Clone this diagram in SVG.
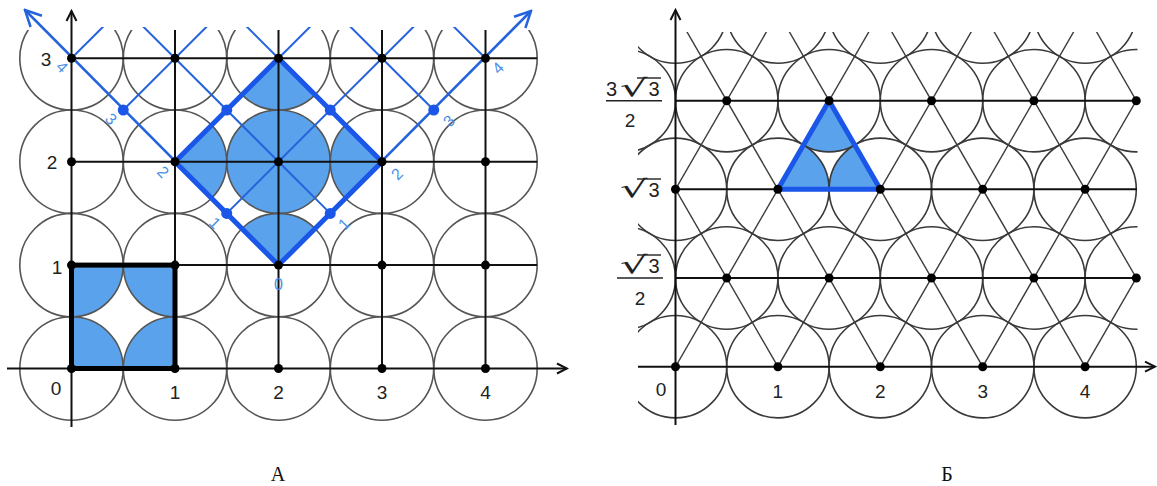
<svg xmlns="http://www.w3.org/2000/svg" width="1157" height="486" viewBox="0 0 1157 486">
<style>
.circ{fill:none;stroke:#555;stroke-width:1.6}
.circR{fill:none;stroke:#3a3a3a;stroke-width:1.6}
.grid{stroke:#111;stroke-width:2;fill:none}
.diag{stroke:#3c3c3c;stroke-width:1.4;fill:none}
.bl{stroke:#2563dc;stroke-width:2;fill:none}
.blt{stroke:#1a56e8;stroke-width:5;fill:none;stroke-linejoin:miter}
.fillb{fill:#5aa2ec}
.dot{fill:#000}
.bdot{fill:#1a56e8}
.lbl{font-family:"Liberation Sans",Arial,sans-serif;font-size:19px;fill:#222;text-anchor:middle}
.blbl{font-family:"Liberation Sans",Arial,sans-serif;font-size:16px;fill:#4a8fe6;text-anchor:middle;dominant-baseline:central}
.cap{font-family:"Liberation Serif","Times New Roman",serif;font-size:20px;fill:#111;text-anchor:middle}
.num{font-family:"Liberation Sans",Arial,sans-serif;font-size:20px;fill:#222}
.rad{font-family:"DejaVu Sans",sans-serif;font-size:24px;fill:#222}
.vin{stroke:#222;stroke-width:1.4}
</style>
<defs>
<marker id="arK" viewBox="-12 -7 14 14" markerWidth="14" markerHeight="14" refX="0" refY="0" orient="auto" markerUnits="userSpaceOnUse">
<path d="M-10,-5 L0,0 L-10,5" fill="none" stroke="#111" stroke-width="2"/>
</marker>
<marker id="arB" viewBox="-18 -10 20 20" markerWidth="20" markerHeight="20" refX="0" refY="0" orient="auto" markerUnits="userSpaceOnUse">
<path d="M-16,-8 L0,0 L-16,8" fill="none" stroke="#2563dc" stroke-width="2.5"/>
</marker>
<clipPath id="clipL"><rect x="0" y="30" width="575" height="456"/></clipPath>
<clipPath id="clipLB"><rect x="0" y="27" width="575" height="456"/></clipPath>
<clipPath id="clipSq"><rect x="71.5" y="265.1" width="103.5" height="103.4"/></clipPath>
<clipPath id="clipDia"><polygon points="278.5,265.1 382,161.7 278.5,58.3 175,161.7"/></clipPath>
<clipPath id="clipR"><rect x="638" y="32" width="499.5" height="454"/></clipPath>
<clipPath id="clipRL"><rect x="675.5" y="32" width="462" height="334.7"/></clipPath>
<clipPath id="clipTri"><polygon points="777.9,189.3 880.3,189.3 829.1,100.7"/></clipPath>
</defs>

<!-- ============ LEFT PANEL (A) ============ -->
<g id="panelA">
<g id="fillsA">
<g clip-path="url(#clipSq)" class="fillb">
<circle cx="71.5" cy="368.5" r="51.7"/><circle cx="175" cy="368.5" r="51.7"/>
<circle cx="71.5" cy="265.1" r="51.7"/><circle cx="175" cy="265.1" r="51.7"/>
</g>
<g clip-path="url(#clipDia)" class="fillb">
<circle cx="278.5" cy="161.7" r="51.7"/><circle cx="278.5" cy="265.1" r="51.7"/>
<circle cx="382" cy="161.7" r="51.7"/><circle cx="278.5" cy="58.3" r="51.7"/>
<circle cx="175" cy="161.7" r="51.7"/>
</g>
</g>
<g id="circlesA" clip-path="url(#clipL)" class="circ">
<circle cx="71.5" cy="368.5" r="51.7"/><circle cx="175" cy="368.5" r="51.7"/><circle cx="278.5" cy="368.5" r="51.7"/><circle cx="382" cy="368.5" r="51.7"/><circle cx="485.5" cy="368.5" r="51.7"/>
<circle cx="71.5" cy="265.1" r="51.7"/><circle cx="175" cy="265.1" r="51.7"/><circle cx="278.5" cy="265.1" r="51.7"/><circle cx="382" cy="265.1" r="51.7"/><circle cx="485.5" cy="265.1" r="51.7"/>
<circle cx="71.5" cy="161.7" r="51.7"/><circle cx="175" cy="161.7" r="51.7"/><circle cx="278.5" cy="161.7" r="51.7"/><circle cx="382" cy="161.7" r="51.7"/><circle cx="485.5" cy="161.7" r="51.7"/>
<circle cx="71.5" cy="58.3" r="51.7"/><circle cx="175" cy="58.3" r="51.7"/><circle cx="278.5" cy="58.3" r="51.7"/><circle cx="382" cy="58.3" r="51.7"/><circle cx="485.5" cy="58.3" r="51.7"/>
</g>
<g id="gridA" class="grid">
<line x1="71.5" y1="265.1" x2="537" y2="265.1"/>
<line x1="71.5" y1="161.7" x2="537" y2="161.7"/>
<line x1="71.5" y1="58.3" x2="537" y2="58.3"/>
<line x1="175" y1="368.5" x2="175" y2="30"/>
<line x1="278.5" y1="368.5" x2="278.5" y2="30"/>
<line x1="382" y1="368.5" x2="382" y2="30"/>
<line x1="485.5" y1="368.5" x2="485.5" y2="30"/>
<line x1="7" y1="368.5" x2="567" y2="368.5" marker-end="url(#arK)"/>
<line x1="71.5" y1="427" x2="71.5" y2="11" marker-end="url(#arK)"/>
</g>
<rect id="unitSquare" x="71.5" y="265.1" width="103.5" height="103.4" fill="none" stroke="#000" stroke-width="5"/>
<g id="blueLines" class="bl">
<g clip-path="url(#clipLB)">
<line x1="330.25" y1="213.4" x2="123.25" y2="6.6"/>
<line x1="382" y1="161.7" x2="226.75" y2="6.6"/>
<line x1="433.75" y1="110" x2="330.25" y2="6.6"/>
<line x1="485.5" y1="58.3" x2="433.75" y2="6.6"/>
<line x1="226.75" y1="213.4" x2="433.75" y2="6.6"/>
<line x1="175" y1="161.7" x2="330.25" y2="6.6"/>
<line x1="123.25" y1="110" x2="226.75" y2="6.6"/>
<line x1="71.5" y1="58.3" x2="123.25" y2="6.6"/>
</g>
<line x1="278.5" y1="265.1" x2="25" y2="10" marker-end="url(#arB)" stroke-width="2.5"/>
<line x1="278.5" y1="265.1" x2="531" y2="11" marker-end="url(#arB)" stroke-width="2.5"/>
</g>
<polygon id="blueSquare" class="blt" points="278.5,265.1 382,161.7 278.5,58.3 175,161.7"/>
<g id="dotsA" class="dot">
<circle cx="71.5" cy="368.5" r="4.5"/><circle cx="175" cy="368.5" r="4.5"/><circle cx="278.5" cy="368.5" r="4.5"/><circle cx="382" cy="368.5" r="4.5"/><circle cx="485.5" cy="368.5" r="4.5"/>
<circle cx="71.5" cy="265.1" r="4.5"/><circle cx="175" cy="265.1" r="4.5"/><circle cx="278.5" cy="265.1" r="4.5"/><circle cx="382" cy="265.1" r="4.5"/><circle cx="485.5" cy="265.1" r="4.5"/>
<circle cx="71.5" cy="161.7" r="4.5"/><circle cx="175" cy="161.7" r="4.5"/><circle cx="278.5" cy="161.7" r="4.5"/><circle cx="382" cy="161.7" r="4.5"/><circle cx="485.5" cy="161.7" r="4.5"/>
<circle cx="71.5" cy="58.3" r="4.5"/><circle cx="175" cy="58.3" r="4.5"/><circle cx="278.5" cy="58.3" r="4.5"/><circle cx="382" cy="58.3" r="4.5"/><circle cx="485.5" cy="58.3" r="4.5"/>
</g>
<g id="blueDots" class="bdot">
<circle cx="123.25" cy="110" r="5.5"/><circle cx="226.75" cy="110" r="5.5"/><circle cx="330.25" cy="110" r="5.5"/><circle cx="433.75" cy="110" r="5.5"/>
<circle cx="226.75" cy="213.4" r="5.5"/><circle cx="330.25" cy="213.4" r="5.5"/>
</g>
<g id="labelsA" class="lbl">
<text x="46" y="66">3</text>
<text x="52" y="169">2</text>
<text x="57" y="274">1</text>
<text x="56" y="395">0</text>
<text x="175" y="399">1</text>
<text x="278.5" y="399">2</text>
<text x="382" y="399">3</text>
<text x="485.5" y="399">4</text>
</g>
<g id="blueLabelsA" class="blbl">
<text x="278.5" y="284">0</text>
<text x="215" y="223" transform="rotate(45 215 223)">1</text>
<text x="163" y="172" transform="rotate(45 163 172)">2</text>
<text x="111" y="119" transform="rotate(45 111 119)">3</text>
<text x="62" y="67" transform="rotate(45 62 67)">4</text>
<text x="344" y="224" transform="rotate(-45 344 224)">1</text>
<text x="397" y="174" transform="rotate(-45 397 174)">2</text>
<text x="449" y="121" transform="rotate(-45 449 121)">3</text>
<text x="498" y="68" transform="rotate(-45 498 68)">4</text>
</g>
<text id="capA" class="cap" x="278" y="481">А</text>
</g>

<!-- ============ RIGHT PANEL (Б) ============ -->
<g id="panelB">
<g id="fillsB" clip-path="url(#clipTri)" class="fillb">
<circle cx="777.9" cy="189.3" r="51.2"/><circle cx="880.3" cy="189.3" r="51.2"/><circle cx="829.1" cy="100.7" r="51.2"/>
</g>
<g id="circlesB" clip-path="url(#clipR)" class="circR">
<circle cx="675.5" cy="366.7" r="51.2"/><circle cx="777.9" cy="366.7" r="51.2"/><circle cx="880.3" cy="366.7" r="51.2"/><circle cx="982.7" cy="366.7" r="51.2"/><circle cx="1085.1" cy="366.7" r="51.2"/>
<circle cx="624.3" cy="278" r="51.2"/><circle cx="726.7" cy="278" r="51.2"/><circle cx="829.1" cy="278" r="51.2"/><circle cx="931.5" cy="278" r="51.2"/><circle cx="1033.9" cy="278" r="51.2"/><circle cx="1136.3" cy="278" r="51.2"/>
<circle cx="675.5" cy="189.3" r="51.2"/><circle cx="777.9" cy="189.3" r="51.2"/><circle cx="880.3" cy="189.3" r="51.2"/><circle cx="982.7" cy="189.3" r="51.2"/><circle cx="1085.1" cy="189.3" r="51.2"/>
<circle cx="624.3" cy="100.7" r="51.2"/><circle cx="726.7" cy="100.7" r="51.2"/><circle cx="829.1" cy="100.7" r="51.2"/><circle cx="931.5" cy="100.7" r="51.2"/><circle cx="1033.9" cy="100.7" r="51.2"/><circle cx="1136.3" cy="100.7" r="51.2"/>
<circle cx="675.5" cy="12" r="51.2"/><circle cx="777.9" cy="12" r="51.2"/><circle cx="880.3" cy="12" r="51.2"/><circle cx="982.7" cy="12" r="51.2"/><circle cx="1085.1" cy="12" r="51.2"/>
</g>
<g id="diagB" clip-path="url(#clipRL)" class="diag">
<line x1="368.3" y1="366.7" x2="624.3" y2="-76.7"/>
<line x1="470.7" y1="366.7" x2="726.7" y2="-76.7"/>
<line x1="573.1" y1="366.7" x2="829.1" y2="-76.7"/>
<line x1="675.5" y1="366.7" x2="931.5" y2="-76.7"/>
<line x1="777.9" y1="366.7" x2="1033.9" y2="-76.7"/>
<line x1="880.3" y1="366.7" x2="1136.3" y2="-76.7"/>
<line x1="982.7" y1="366.7" x2="1238.7" y2="-76.7"/>
<line x1="1085.1" y1="366.7" x2="1341.1" y2="-76.7"/>
<line x1="675.5" y1="366.7" x2="419.5" y2="-76.7"/>
<line x1="777.9" y1="366.7" x2="521.9" y2="-76.7"/>
<line x1="880.3" y1="366.7" x2="624.3" y2="-76.7"/>
<line x1="982.7" y1="366.7" x2="726.7" y2="-76.7"/>
<line x1="1085.1" y1="366.7" x2="829.1" y2="-76.7"/>
<line x1="1187.5" y1="366.7" x2="931.5" y2="-76.7"/>
<line x1="1289.9" y1="366.7" x2="1033.9" y2="-76.7"/>
</g>
<g id="gridB" class="grid">
<line x1="675.5" y1="278" x2="1137" y2="278"/>
<line x1="675.5" y1="189.3" x2="1137" y2="189.3"/>
<line x1="675.5" y1="100.7" x2="1137" y2="100.7"/>
<line x1="638" y1="366.7" x2="1155" y2="366.7" marker-end="url(#arK)"/>
<line x1="675.5" y1="425" x2="675.5" y2="10" marker-end="url(#arK)"/>
</g>
<polygon id="blueTriangle" class="blt" stroke-width="4.5" points="777.9,189.3 880.3,189.3 829.1,100.7"/>
<g id="dotsB" class="dot">
<circle cx="675.5" cy="366.7" r="4.5"/><circle cx="777.9" cy="366.7" r="4.5"/><circle cx="880.3" cy="366.7" r="4.5"/><circle cx="982.7" cy="366.7" r="4.5"/><circle cx="1085.1" cy="366.7" r="4.5"/>
<circle cx="726.7" cy="278" r="4.5"/><circle cx="829.1" cy="278" r="4.5"/><circle cx="931.5" cy="278" r="4.5"/><circle cx="1033.9" cy="278" r="4.5"/><circle cx="1136.3" cy="278" r="4.5"/>
<circle cx="675.5" cy="189.3" r="4.5"/><circle cx="777.9" cy="189.3" r="4.5"/><circle cx="880.3" cy="189.3" r="4.5"/><circle cx="982.7" cy="189.3" r="4.5"/><circle cx="1085.1" cy="189.3" r="4.5"/>
<circle cx="726.7" cy="100.7" r="4.5"/><circle cx="829.1" cy="100.7" r="4.5"/><circle cx="931.5" cy="100.7" r="4.5"/><circle cx="1033.9" cy="100.7" r="4.5"/><circle cx="1136.3" cy="100.7" r="4.5"/>
</g>
<g id="labelsB" class="lbl">
<text x="661" y="396">0</text>
<text x="777.9" y="398">1</text>
<text x="880.3" y="398">2</text>
<text x="982.7" y="398">3</text>
<text x="1085.1" y="398">4</text>
</g>
<g id="fracLabels">
<text class="num" x="606" y="96">3</text>
<text class="rad" transform="translate(620 96) scale(1.8 1)">√</text>
<text class="num" x="648.5" y="96">3</text>
<line class="vin" x1="637" y1="78" x2="661" y2="78"/>
<line x1="606" y1="100.7" x2="662" y2="100.7" stroke="#222" stroke-width="1.5"/>
<text class="lbl" x="630" y="127">2</text>

<text class="rad" transform="translate(620 197) scale(1.8 1)">√</text>
<text class="num" x="648.5" y="197">3</text>
<line class="vin" x1="637" y1="179" x2="661" y2="179"/>

<text class="rad" transform="translate(620 273) scale(1.8 1)">√</text>
<text class="num" x="648.5" y="273">3</text>
<line class="vin" x1="637" y1="255" x2="661" y2="255"/>
<line x1="617" y1="278" x2="663" y2="278" stroke="#222" stroke-width="1.5"/>
<text class="lbl" x="640" y="305">2</text>
</g>
<text id="capB" class="cap" x="947" y="481">Б</text>
</g>
</svg>
